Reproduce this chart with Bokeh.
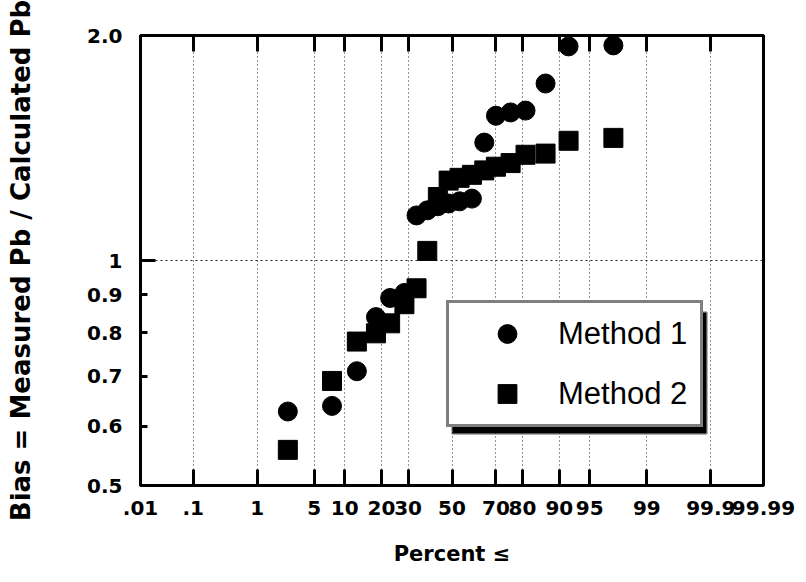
from statistics import NormalDist
from bokeh.plotting import figure
from bokeh.models import (Range1d, FixedTicker, LinearAxis, CustomJSTickFormatter,
                          Legend, LegendItem, ColumnDataSource, BoxAnnotation)
from bokeh.embed import file_html
from bokeh.resources import INLINE

# ---- data ----
percent_ticks = [0.01, 0.1, 1, 5, 10, 20, 30, 50, 70, 80, 90, 95, 99, 99.9, 99.99]
percent_labels = [".01", ".1", "1", "5", "10", "20", "30", "50", "70", "80",
                  "90", "95", "99", "99.9", "99.99"]
bias_ticks = [0.5, 0.6, 0.7, 0.8, 0.9, 1, 2]
bias_labels = ["0.5", "0.6", "0.7", "0.8", "0.9", "1", "2.0"]

method1_percent = [2.5, 7.6, 12.8, 18.2, 23.0, 28.5, 33.6, 38.4, 43.3, 48.4,
                   53.6, 59.4, 65.0, 70.0, 75.8, 81.0, 86.8, 91.8, 97.3]
method1_bias = [0.628, 0.639, 0.711, 0.840, 0.891, 0.905, 1.149, 1.167, 1.182, 1.192,
                1.200, 1.210, 1.438, 1.562, 1.578, 1.587, 1.725, 1.934, 1.940]

method2_percent = [2.5, 7.6, 12.8, 18.2, 23.0, 28.5, 33.6, 38.4, 43.3, 48.4,
                   53.6, 59.4, 65.0, 70.0, 75.8, 81.0, 86.8, 91.8, 97.3]
method2_bias = [0.558, 0.690, 0.779, 0.799, 0.824, 0.874, 0.918, 1.030, 1.216, 1.279,
                1.290, 1.302, 1.320, 1.335, 1.350, 1.385, 1.390, 1.446, 1.459]

nd = NormalDist()
def probit(pcts):
    return [nd.inv_cdf(v / 100.0) for v in pcts]

x_ticks = probit(percent_ticks)
xmin, xmax = x_ticks[0], x_ticks[-1]

src1 = ColumnDataSource(dict(x=probit(method1_percent), y=method1_bias))
src2 = ColumnDataSource(dict(x=probit(method2_percent), y=method2_bias))

FONT_B = "DejaVu Sans"

p = figure(frame_width=623, frame_height=450, y_axis_type="log",
           x_range=Range1d(xmin, xmax), y_range=Range1d(0.5, 2.0),
           output_backend="svg", toolbar_location=None,
           min_border_left=140, min_border_right=35,
           min_border_top=35, min_border_bottom=89)
p.background_fill_color = "white"
p.border_fill_color = "white"
p.outline_line_color = "black"
p.outline_line_width = 3

xticker = FixedTicker(ticks=x_ticks, minor_ticks=[])
yticker = FixedTicker(ticks=bias_ticks, minor_ticks=[])

lookup_code = """
let b = 0;
for (let k = 0; k < vals.length; k++) { if (Math.abs(vals[k] - tick) < Math.abs(vals[b] - tick)) b = k; }
return labs[b];
"""
xfmt = CustomJSTickFormatter(args=dict(vals=x_ticks, labs=percent_labels), code=lookup_code)
yfmt = CustomJSTickFormatter(args=dict(vals=bias_ticks, labs=bias_labels), code=lookup_code)

xa = p.xaxis[0]
xa.ticker = xticker
xa.formatter = xfmt
xa.axis_label = "Percent ≤"
xa.axis_label_text_font = FONT_B
xa.axis_label_text_font_style = "bold"
xa.axis_label_text_font_size = "21px"
xa.axis_label_text_color = "black"
xa.axis_label_standoff = 24
xa.major_label_text_font = FONT_B
xa.major_label_text_font_style = "bold"
xa.major_label_text_font_size = "20px"
xa.major_label_text_color = "black"
xa.major_label_standoff = 15
xa.major_tick_in = 16
xa.major_tick_out = 0
xa.major_tick_line_width = 3
xa.major_tick_line_color = "black"
xa.axis_line_width = 3
xa.axis_line_color = "black"
xa.minor_tick_line_color = None

ya = p.yaxis[0]
ya.ticker = yticker
ya.formatter = yfmt
ya.axis_label = "Bias = Measured Pb / Calculated Pb"
ya.axis_label_text_font = FONT_B
ya.axis_label_text_font_style = "bold"
ya.axis_label_text_font_size = "26px"
ya.axis_label_text_color = "black"
ya.axis_label_standoff = 48
ya.major_label_text_font = FONT_B
ya.major_label_text_font_style = "bold"
ya.major_label_text_font_size = "20px"
ya.major_label_text_color = "black"
ya.major_label_standoff = 18
ya.major_label_orientation = "horizontal"
ya.major_tick_in = 7
ya.major_tick_out = 0
ya.major_tick_line_width = 3
ya.major_tick_line_color = "black"
ya.axis_line_width = 3
ya.axis_line_color = "black"
ya.minor_tick_line_color = None

top = LinearAxis(ticker=xticker,
                 formatter=CustomJSTickFormatter(code="return '';"),
                 major_label_text_color=None, major_label_standoff=0,
                 major_tick_in=16, major_tick_out=0, major_tick_line_width=3,
                 major_tick_line_color="black",
                 axis_line_width=3, axis_line_color="black", minor_tick_line_color=None)
p.add_layout(top, "above")

p.xgrid.ticker = xticker
p.xgrid.grid_line_color = "#222222"
p.xgrid.grid_line_dash = "1 3"
p.xgrid.grid_line_width = 1
p.ygrid.ticker = FixedTicker(ticks=[1], minor_ticks=[])
p.ygrid.grid_line_color = "#222222"
p.ygrid.grid_line_dash = "2 3"
p.ygrid.grid_line_width = 1.2

# longer tick mark at 1 on the left axis
tick_len = (xmax - xmin) * 15.0 / 623.0
p.segment(x0=[xmin], y0=[1], x1=[xmin + tick_len], y1=[1], line_color="black", line_width=3)

r1 = p.scatter("x", "y", source=src1, marker="circle", size=19,
               fill_color="black", line_color="black")
r2 = p.scatter("x", "y", source=src2, marker="square", size=19,
               fill_color="black", line_color="black")

# legend box geometry (screen pixels, relative to the plot frame)
LG_X, LG_Y, LG_W, LG_H, SHADOW = 306, 58, 254, 121, 6

shadow = BoxAnnotation(left=LG_X + SHADOW, right=LG_X + SHADOW + LG_W,
                       bottom=LG_Y - SHADOW, top=LG_Y - SHADOW + LG_H,
                       left_units="screen", right_units="screen",
                       top_units="screen", bottom_units="screen",
                       fill_color="black", fill_alpha=1.0, line_color="black", line_width=3)
p.add_layout(shadow)

legend = Legend(items=[LegendItem(label="Method 1", renderers=[r1]),
                       LegendItem(label="Method 2", renderers=[r2])],
                location=(LG_X, LG_Y), orientation="vertical",
                padding=7, spacing=13, margin=0,
                glyph_width=102, glyph_height=47, label_standoff=0, label_width=135,
                label_text_font="Liberation Sans", label_text_font_size="31px",
                label_text_color="black",
                border_line_color="black", border_line_width=3,
                background_fill_color="white", background_fill_alpha=1.0)
p.add_layout(legend)

open("out.html", "w").write(file_html(p, INLINE))
